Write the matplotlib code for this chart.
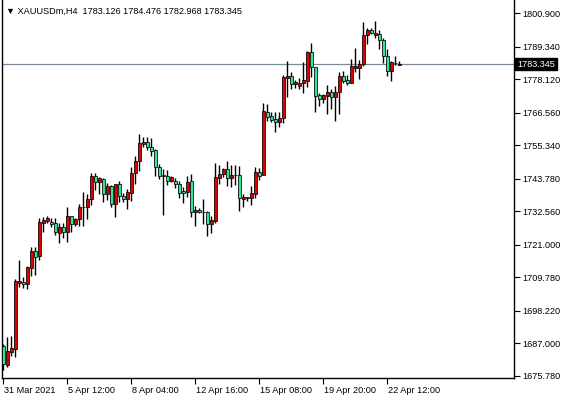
import matplotlib
matplotlib.use("Agg")
import matplotlib.pyplot as plt
import matplotlib.transforms as mtransforms
import numpy as np

# H4 candles, XAUUSDm
opens = [1686.0, 1679.6, 1684.05, 1684.98, 1707.87, 1708.12, 1707.53, 1713.05, 1718.82, 1717.2,
         1728.59, 1729.28, 1728.94, 1728.49, 1725.14, 1727.0, 1725.28, 1730.8, 1728.25, 1729.77,
         1733.91, 1733.91, 1736.78, 1744.72, 1742.65, 1743.68, 1738.5, 1741.26, 1735.05, 1741.85,
         1737.81, 1736.88, 1739.02, 1745.65, 1749.8, 1755.84, 1756.39, 1754.63, 1753.69, 1747.72,
         1744.89, 1744.89, 1743.09, 1742.99, 1741.85, 1739.54, 1739.3, 1742.99, 1732.39, 1732.87,
         1732.18, 1732.18, 1728.04, 1729.28, 1744.2, 1745.34, 1747.07, 1744.2, 1745.06, 1745.06,
         1736.78, 1737.36, 1737.02, 1738.67, 1746.1, 1745.06, 1766.71, 1765.33, 1764.3, 1763.47,
         1764.64, 1778.66, 1779.25, 1776.38, 1775.9, 1776.93, 1777.62, 1787.43, 1782.46, 1772.69,
         1771.2, 1772.44, 1773.62, 1772.1, 1773.62, 1779.25, 1777.87, 1776.93, 1782.11, 1782.11,
         1783.29, 1793.4, 1795.13, 1793.4, 1793.65, 1791.68, 1786.26, 1781.08, 1783.9, 1783.126]
highs = [1686.71, 1689.12, 1689.47, 1709.05, 1715.71, 1709.84, 1713.64, 1720.2, 1720.31, 1730.32,
         1730.46, 1730.91, 1730.11, 1730.11, 1728.49, 1728.49, 1733.91, 1730.91, 1730.11, 1734.95,
         1739.19, 1738.5, 1745.75, 1745.75, 1744.5, 1744.0, 1742.4, 1741.61, 1741.95, 1742.99,
         1738.74, 1740.12, 1747.93, 1751.52, 1759.15, 1758.29, 1758.18, 1757.73, 1754.04, 1748.86,
         1747.07, 1746.79, 1744.72, 1743.92, 1742.99, 1741.02, 1744.89, 1745.41, 1734.53, 1733.84,
         1736.71, 1732.53, 1730.8, 1749.31, 1748.62, 1747.65, 1749.79, 1748.52, 1748.52, 1748.17,
         1738.4, 1737.64, 1741.26, 1747.83, 1747.48, 1769.82, 1769.58, 1766.71, 1766.92, 1766.71,
         1779.59, 1784.43, 1780.73, 1777.87, 1778.45, 1784.19, 1787.88, 1790.64, 1782.5, 1773.27,
         1772.93, 1776.14, 1774.76, 1775.9, 1780.52, 1780.97, 1779.59, 1785.12, 1789.02, 1784.77,
         1797.79, 1795.92, 1795.72, 1798.24, 1795.13, 1792.47, 1788.47, 1784.43, 1786.26, 1784.476]
lows = [1677.73, 1678.87, 1682.67, 1682.32, 1706.39, 1706.15, 1705.7, 1710.29, 1710.53, 1715.71,
        1725.48, 1728.49, 1727.0, 1724.34, 1721.48, 1723.41, 1722.03, 1725.28, 1727.56, 1727.56,
        1727.56, 1729.77, 1734.7, 1739.88, 1738.5, 1735.84, 1736.43, 1734.01, 1730.66, 1735.84,
        1735.74, 1733.43, 1736.08, 1741.95, 1746.55, 1754.63, 1753.59, 1751.73, 1744.72, 1743.68,
        1731.25, 1741.61, 1742.65, 1740.47, 1737.02, 1735.5, 1737.47, 1730.66, 1727.45, 1731.94,
        1728.14, 1724.0, 1724.93, 1728.66, 1741.95, 1744.37, 1741.26, 1741.02, 1741.61, 1732.74,
        1734.12, 1736.08, 1734.7, 1737.29, 1743.34, 1744.9, 1763.71, 1763.26, 1760.01, 1761.74,
        1762.91, 1772.1, 1774.65, 1775.21, 1774.76, 1773.48, 1775.55, 1779.01, 1766.92, 1768.99,
        1770.03, 1766.02, 1767.75, 1763.71, 1766.23, 1776.73, 1776.14, 1776.73, 1780.52, 1778.11,
        1782.8, 1790.19, 1793.75, 1792.47, 1788.47, 1783.63, 1779.35, 1777.62, 1783.05, 1782.968]
closes = [1679.7, 1684.29, 1685.22, 1708.46, 1708.46, 1707.53, 1713.29, 1718.82, 1716.85, 1728.73,
          1729.52, 1730.11, 1728.25, 1725.28, 1727.0, 1725.28, 1730.8, 1728.25, 1729.77, 1733.91,
          1733.95, 1736.78, 1744.72, 1742.65, 1743.9, 1738.5, 1741.26, 1735.05, 1741.85, 1737.71,
          1736.88, 1739.19, 1745.75, 1749.9, 1756.01, 1756.39, 1754.56, 1753.45, 1747.72, 1744.89,
          1744.85, 1743.09, 1744.27, 1741.85, 1738.95, 1738.95, 1742.54, 1732.39, 1732.98, 1732.18,
          1732.2, 1728.04, 1729.52, 1744.27, 1745.34, 1747.13, 1744.2, 1745.06, 1745.0, 1737.02,
          1737.53, 1737.02, 1738.85, 1746.1, 1744.89, 1767.16, 1765.19, 1764.16, 1763.47, 1764.64,
          1778.8, 1779.25, 1776.38, 1777.18, 1776.93, 1777.87, 1787.43, 1782.46, 1772.44, 1771.2,
          1772.69, 1773.82, 1772.1, 1773.62, 1779.25, 1777.62, 1776.93, 1782.7, 1782.7, 1783.39,
          1793.4, 1795.13, 1793.99, 1793.99, 1791.68, 1786.26, 1781.08, 1783.98, 1783.7, 1783.345]

price_ticks = [1800.900, 1789.340, 1778.120, 1766.560, 1755.340, 1743.780,
               1732.560, 1721.000, 1709.780, 1698.220, 1687.000, 1675.780]
time_tick_bars = [0, 16, 32, 48, 64, 80, 96]
time_tick_labels = ["31 Mar 2021", "5 Apr 12:00", "8 Apr 04:00", "12 Apr 16:00",
                    "15 Apr 08:00", "19 Apr 20:00", "22 Apr 12:00"]
symbol = "XAUUSDm,H4"
last_price = 1783.345

plt.rcParams["font.family"] = ["Liberation Sans", "DejaVu Sans"]
FS = 6.6

o = np.array(opens); h = np.array(highs); l = np.array(lows); c = np.array(closes)
x = np.arange(len(o))
bull = c >= o

fig = plt.figure(figsize=(5.64, 3.99), dpi=100)
ax = fig.add_axes([2 / 564, 21 / 399, 512 / 564, 378 / 399])
ax.set_xlim(-0.325, 127.7)
ax.set_ylim(1674.97, 1805.49)

ax.axhline(last_price, color="#7a8a99", lw=0.9, zorder=1)

ax.vlines(x, l, h, color="black", lw=1.0, zorder=2)
body_bottom = np.minimum(o, c)
body_h = np.maximum(np.abs(c - o), 0.2)
colors = ["#e00000" if b else "#2ee89a" for b in bull]
ax.bar(x, body_h, bottom=body_bottom, width=0.78, color=colors,
       edgecolor="black", linewidth=0.55, zorder=3)

ax.spines["top"].set_visible(False)
for s in ["left", "right", "bottom"]:
    ax.spines[s].set_linewidth(1.0)

ax.yaxis.tick_right()
ax.set_yticks(price_ticks)
ax.set_yticklabels([f"{v:.3f}" for v in price_ticks])
ax.tick_params(axis="y", direction="out", length=4, width=0.8, pad=2,
               labelsize=FS, colors="black")
ax.set_xticks(time_tick_bars)
ax.set_xticklabels(time_tick_labels, ha="left")
ax.tick_params(axis="x", direction="out", length=4, width=0.8, pad=2, labelsize=FS)
offset = mtransforms.ScaledTranslation(1 / 100, 0, fig.dpi_scale_trans)
for lbl in ax.get_xticklabels():
    lbl.set_transform(lbl.get_transform() + offset)

ax.text(1.0 + 3 / 512, last_price, f"{last_price:.3f}", transform=ax.get_yaxis_transform(),
        ha="left", va="center", fontsize=FS, color="white", zorder=5,
        bbox=dict(boxstyle="square,pad=0.2", fc="black", ec="black"))

ax.text(4 / 512, 1 - 11 / 378,
        f"\u25bc {symbol}  {o[-1]:.3f} {h[-1]:.3f} {l[-1]:.3f} {c[-1]:.3f}",
        transform=ax.transAxes, ha="left", va="center", fontsize=FS,
        family=["DejaVu Sans"] if False else None)

fig.savefig("out.png", dpi=100)
